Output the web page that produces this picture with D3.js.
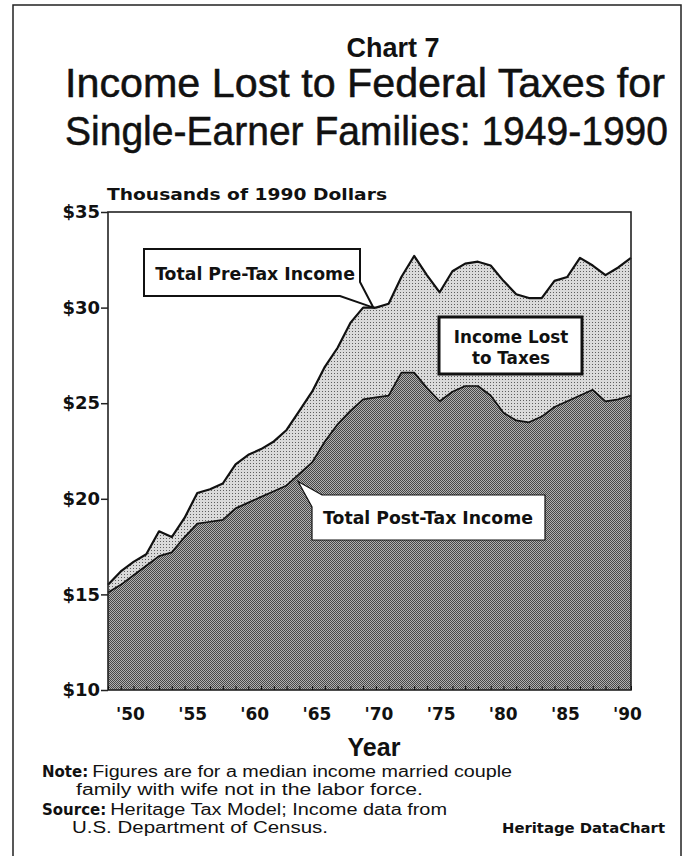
<!DOCTYPE html>
<html><head><meta charset="utf-8">
<script src="https://cdn.jsdelivr.net/npm/d3@7/dist/d3.min.js"></script>
<style>body{margin:0;background:#fff}svg{display:block}</style>
</head><body>
<svg id="c" width="684" height="856"></svg>
<script>
// ---- data (thousands of 1990 dollars) ----
const years = d3.range(1949, 1991);
const preTax = [15.5,16.2,16.7,17.1,18.3,18.0,19.0,20.3,20.5,20.8,21.8,22.3,22.6,23.0,23.6,24.6,25.6,26.9,27.9,29.2,
                30.0,30.0,30.2,31.6,32.7,31.7,30.8,31.9,32.3,32.4,32.2,31.4,30.7,30.5,30.5,31.4,31.6,32.6,32.2,31.7,32.1,32.6];
const postTax = [15.1,15.5,16.0,16.5,17.0,17.2,18.0,18.7,18.8,18.9,19.5,19.8,20.1,20.4,20.7,21.3,21.9,23.0,23.9,24.6,
                 25.2,25.3,25.4,26.6,26.6,25.8,25.1,25.6,25.9,25.9,25.4,24.5,24.1,24.0,24.3,24.8,25.1,25.4,25.7,25.1,25.2,25.4];
const yTickValues = [10,15,20,25,30,35];
const yTickLabels = ["$10","$15","$20","$25","$30","$35"];
const xTickYears = [1950,1955,1960,1965,1970,1975,1980,1985,1990];
const xTickLabels = ["'50","'55","'60","'65","'70","'75","'80","'85","'90"];

const rows = years.map((yr,i)=>({year:yr, pre:preTax[i], post:postTax[i]}));

const svg = d3.select("#c");
const plot = {l:108, r:631, t:212, b:690};
const x = d3.scaleLinear().domain([1949,1990]).range([plot.l, plot.r]);
const y = d3.scaleLinear().domain([10,35]).range([plot.b, plot.t]);
// label placement scale for the year captions (slightly inset, as printed)
const xLab = d3.scaleLinear().domain([1950,1990]).range([130,627]);

const BOLD = "'DejaVu Sans', sans-serif";
const HELV = "'Liberation Sans', Arial, sans-serif";

// outer frame
svg.append("rect").attr("x",13).attr("y",5).attr("width",668).attr("height",870)
  .attr("fill","none").attr("stroke","#222").attr("stroke-width",1.5);

// patterns (halftone look)
const defs = svg.append("defs");
const pd = defs.append("pattern").attr("id","darkPat").attr("patternUnits","userSpaceOnUse")
  .attr("width",2).attr("height",2);
pd.append("rect").attr("width",2).attr("height",2).attr("fill","#b0b0b0");
pd.append("rect").attr("x",0).attr("y",0).attr("width",1).attr("height",1).attr("fill","#474747");
pd.append("rect").attr("x",1).attr("y",1).attr("width",1).attr("height",1).attr("fill","#474747");
const pl = defs.append("pattern").attr("id","lightPat").attr("patternUnits","userSpaceOnUse")
  .attr("width",3).attr("height",3);
pl.append("rect").attr("width",3).attr("height",3).attr("fill","#dadada");
pl.append("rect").attr("x",1).attr("y",1).attr("width",1).attr("height",1).attr("fill","#5e5e5e");

// titles
svg.append("text").attr("x",393).attr("y",57).attr("text-anchor","middle")
  .attr("font-family",HELV).attr("font-weight","bold").attr("font-size",27).attr("fill","#111").text("Chart 7");
svg.append("text").attr("x",65).attr("y",97)
  .attr("font-family",HELV).attr("font-size",40).attr("fill","#111").attr("stroke","#111").attr("stroke-width",0.5)
  .attr("textLength",600).attr("lengthAdjust","spacingAndGlyphs").text("Income Lost to Federal Taxes for");
svg.append("text").attr("x",65).attr("y",145)
  .attr("font-family",HELV).attr("font-size",40).attr("fill","#111").attr("stroke","#111").attr("stroke-width",0.5)
  .attr("textLength",603).attr("lengthAdjust","spacingAndGlyphs").text("Single-Earner Families: 1949-1990");
svg.append("text").attr("x",107).attr("y",200)
  .attr("font-family",BOLD).attr("font-weight","bold").attr("font-size",16.5).attr("fill","#111")
  .attr("textLength",280).attr("lengthAdjust","spacingAndGlyphs")
  .text("Thousands of 1990 Dollars");

// areas
svg.append("path").datum(rows).attr("fill","url(#lightPat)")
  .attr("d", d3.area().x(d=>x(d.year)).y0(y(10)).y1(d=>y(d.pre)));
svg.append("path").datum(rows).attr("fill","url(#darkPat)")
  .attr("d", d3.area().x(d=>x(d.year)).y0(y(10)).y1(d=>y(d.post)));
svg.append("path").datum(rows).attr("fill","none").attr("stroke","#111").attr("stroke-width",2.2)
  .attr("stroke-linejoin","round").attr("d", d3.line().x(d=>x(d.year)).y(d=>y(d.pre)));
svg.append("path").datum(rows).attr("fill","none").attr("stroke","#111").attr("stroke-width",1.7)
  .attr("stroke-linejoin","round").attr("d", d3.line().x(d=>x(d.year)).y(d=>y(d.post)));

// plot frame
svg.append("rect").attr("x",plot.l).attr("y",plot.t).attr("width",plot.r-plot.l).attr("height",plot.b-plot.t)
  .attr("fill","none").attr("stroke","#222").attr("stroke-width",1.6);

// small year ticks along bottom
const xt = svg.append("g").attr("transform",`translate(0,${plot.b})`)
  .call(d3.axisBottom(x).tickValues(years).tickSize(-4).tickFormat(""));
xt.select(".domain").remove();
xt.selectAll("line").attr("stroke","#111").attr("stroke-width",1);

// y axis
const ya = svg.append("g").attr("transform",`translate(${plot.l},0)`)
  .call(d3.axisLeft(y).tickValues(yTickValues).tickSize(7).tickPadding(1)
    .tickFormat((d,i)=>yTickLabels[i]));
ya.select(".domain").remove();
ya.selectAll("line").attr("stroke","#222").attr("stroke-width",1.5);
ya.selectAll("text").attr("font-family",BOLD).attr("font-weight","bold").attr("font-size",18).attr("fill","#111");

// x axis labels
const xa = svg.append("g").attr("transform",`translate(0,${plot.b})`)
  .call(d3.axisBottom(xLab).tickValues(xTickYears).tickSize(0).tickPadding(18)
    .tickFormat((d,i)=>xTickLabels[i]));
xa.select(".domain").remove();
xa.selectAll("text").attr("font-family",BOLD).attr("font-weight","bold").attr("font-size",17).attr("fill","#111");

svg.append("text").attr("x",374).attr("y",756).attr("text-anchor","middle")
  .attr("font-family",HELV).attr("font-weight","bold").attr("font-size",25).attr("fill","#111").text("Year");

// callouts
function callout(pathD, sw, lines, tx, ty0, lh, fs){
  svg.append("path").attr("d",pathD).attr("fill","#fff").attr("stroke","#111").attr("stroke-width",sw)
    .attr("stroke-linejoin","miter");
  lines.forEach((t,i)=>svg.append("text").attr("x",tx).attr("y",ty0+i*lh).attr("text-anchor","middle")
    .attr("font-family",BOLD).attr("font-weight","bold").attr("font-size",fs).attr("fill","#111").text(t));
}
const preTip = [x(1969.8), y(30.0)];
callout(`M144,249H360V282L${preTip[0]},${preTip[1]}L340,296H144Z`, 2, ["Total Pre-Tax Income"], 255, 280, 0, 17.3);
callout(`M439,317H582V374H439Z`, 3, ["Income Lost","to Taxes"], 511, 343, 21, 16.8);
const postTip = [x(1963.9), y(20.9)];
callout(`M322,495H545V540H312V507L${postTip[0]},${postTip[1]}Z`, 1.2, ["Total Post-Tax Income"], 428, 524, 0, 17.3);

// notes
function noteLine(xp, yp, label, body, len){
  let bx = xp;
  if(label){
    const l = svg.append("text").attr("x",xp).attr("y",yp).attr("font-family",BOLD).attr("font-weight","bold")
      .attr("font-size",15).attr("fill","#111").text(label);
    bx = xp + l.node().getComputedTextLength() + 4;
  }
  svg.append("text").attr("x",bx).attr("y",yp).attr("font-family",HELV).attr("font-size",16).attr("fill","#111")
    .attr("textLength", len - (bx - xp)).attr("lengthAdjust","spacingAndGlyphs").text(body);
}
noteLine(42, 777, "Note:", "Figures are for a median income married couple", 470);
noteLine(76, 795, null, "family with wife not in the labor force.", 347);
noteLine(42, 815, "Source:", "Heritage Tax Model; Income data from", 405);
noteLine(72, 833, null, "U.S. Department of Census.", 256);
svg.append("text").attr("x",665).attr("y",833).attr("text-anchor","end")
  .attr("font-family",BOLD).attr("font-weight","bold").attr("font-size",14.5).attr("fill","#111")
  .attr("textLength",163).attr("lengthAdjust","spacingAndGlyphs").text("Heritage DataChart");
</script>
</body></html>
